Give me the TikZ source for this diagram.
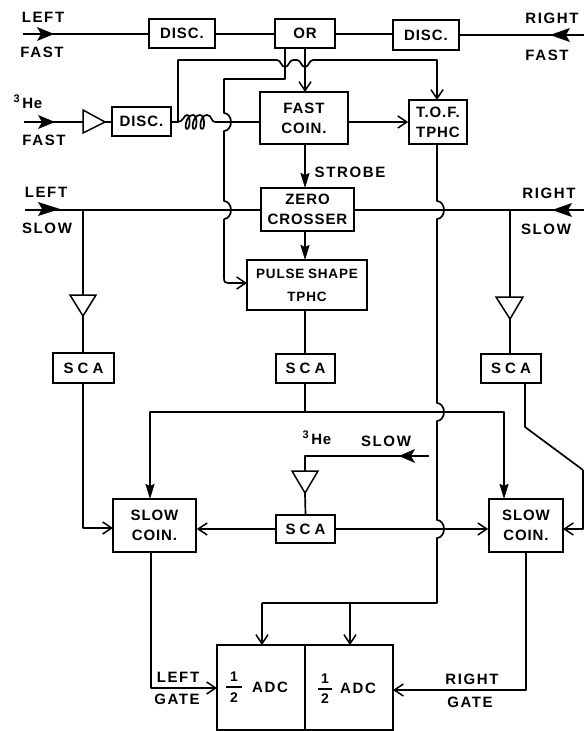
\documentclass[tikz,border=0pt]{standalone}
\usepackage{fontspec}
\setmainfont[LetterSpace=6,WordSpace=0.8]{Liberation Sans Bold}
\newfontfamily\labfont[LetterSpace=11,WordSpace=0.8]{Liberation Sans Bold}
\usetikzlibrary{arrows.meta,shapes.geometric}
\tikzset{
  x=1pt,y=-1pt,
  wire/.style={line width=1.7pt,line join=round},
  openarrow/.style={wire,-{Straight Barb[length=9pt,width=12pt,line width=1.5pt]}},
  solidarrow/.style={wire,-{Stealth[length=15pt,width=9pt,inset=2pt]}},
  blockbox/.style={draw,line width=1.7pt,fill=white,align=center,inner sep=0pt,font=\fontsize{15}{20}\selectfont},
  lab/.style={inner sep=0pt,align=center,font=\labfont\fontsize{15}{18}\selectfont},
  fracnum/.style={inner sep=0pt,font=\fontsize{14}{14}\selectfont},
  amp/.style={draw,line width=1.5pt,fill=white},
}
\newcommand{\mkbox}[6]{\node[blockbox,minimum width={(#3-#2)*1pt},minimum height={(#5-#4)*1pt}] (#1) at ({(#2+#3)/2},{(#4+#5)/2}) {#6};}
\begin{document}
\begin{tikzpicture}
\useasboundingbox (0,0) rectangle (584,731);
% ---- free ends
\coordinate (lfin) at (23,34);
\coordinate (rfin) at (584,35);
\coordinate (lsin) at (25,210);
\coordinate (rsin) at (584,210);
\coordinate (hefin) at (24,122);
\coordinate (hesin) at (429,456);
% ---- boxes
\mkbox{d1}{149}{215}{19}{48}{DISC.}
\mkbox{or}{275}{335}{19}{48}{OR}
\mkbox{d2}{393}{459}{20}{50}{DISC.}
\mkbox{fc}{260}{348}{92}{144}{FAST\\COIN.}
\mkbox{tof}{409}{467}{100}{144}{T.O.F.\\TPHC}
\mkbox{d3}{112}{171}{107}{136}{DISC.}
\mkbox{zc}{261}{354}{188}{231}{ZERO\\CROSSER}
\node[blockbox,minimum width=120pt,minimum height=50pt,font=\fontsize{13.5}{23}\selectfont] (ps) at (307,285) {PULSE SHAPE\\TPHC};
\mkbox{sl}{53}{114}{353}{383}{S C A}
\mkbox{sm}{276}{335}{354}{383}{S C A}
\mkbox{sr}{481}{541}{354}{383}{S C A}
\mkbox{cl}{113}{196}{499}{552}{SLOW\\COIN.}
\mkbox{sb}{276}{335}{515}{543}{S C A}
\mkbox{cr}{489}{563}{499}{552}{SLOW\\COIN.}
\node[draw,line width=1.7pt,minimum width=88pt,minimum height=85pt,inner sep=0pt] (a1) at (261,687.5) {};
\node[draw,line width=1.7pt,minimum width=88pt,minimum height=85pt,inner sep=0pt] (a2) at (349,687.5) {};
% ---- amplifier triangles
\coordinate (a3in) at (83,122); \coordinate (a3out) at (105,122);
\coordinate (alin) at (83,295); \coordinate (alout) at (83,316);
\coordinate (arin) at (510,297); \coordinate (arout) at (510,319);
\coordinate (abin) at (305,471); \coordinate (about) at (305,493);
% ---- coil ends
\coordinate (cstart) at (178,122);
\coordinate (cend) at (215,122);
% ---- wires
\draw[wire] (lfin) -- (d1.west |- lfin);
\draw[wire] (d1.east |- lfin) -- (or.west |- lfin);
\draw[wire] (d2.west |- lfin) -- (or.east |- lfin);
\draw[wire] (rfin) -- (d2.east |- rfin);
\draw[wire] (hefin) -- (a3in);
\draw[wire] (a3out) -- (d3.west |- a3out);
\draw[wire] (d3.east |- a3out) -- (cstart);
\draw[wire] (cstart) .. controls (183,122) and (184,115) .. (187,115) .. controls (191,115) and (190,129) .. (187,129) .. controls (184,129) and (186,115) .. (193,115) .. controls (198,115) and (197,129) .. (194,129) .. controls (191,129) and (193,115) .. (200,115) .. controls (205,115) and (205,129) .. (202,129) .. controls (199,129) and (200,115) .. (207,115) .. controls (212,115) and (211,122) .. (cend);
\draw[wire] (cend) -- (fc.west |- cend);
% OR outputs
\draw[openarrow] (305,48) -- (305,92);
\draw[wire] (285,48) -- (285,79) -- (224,79) -- (224,113) arc[start angle=-90,end angle=90,x radius=7,y radius=9] -- (224,201) arc[start angle=-90,end angle=90,x radius=7,y radius=9];
\draw[openarrow] (224,219) -- (224,278) .. controls (224,282) and (225,283) .. (228,283) -- (247,283);
% time-of-flight branch
\draw[wire] (178,122) -- (178,60) -- (277,60) .. controls (281,60) and (281,67) .. (285,67) .. controls (289,67) and (289,60) .. (293,60) -- (297,60) .. controls (301,60) and (301,67) .. (305,67) .. controls (309,67) and (309,60) .. (313,60);
\draw[openarrow] (313,60) -- (437,60) -- (437,100);
\draw[openarrow] (fc.east |- tof.west) -- (tof.west);
\draw[solidarrow] (305,144) -- (305,188);
\draw[solidarrow] (305,231) -- (305,260);
% slow lines
\draw[wire] (lsin) -- (zc.west |- lsin);
\draw[wire] (zc.east |- lsin) -- (rsin);
\draw[wire] (83,210) -- (alin);
\draw[wire] (alout) -- (83,353);
\draw[wire] (510,210) -- (arin);
\draw[wire] (arout) -- (510,354);
\draw[wire] (305,310) -- (305,354);
% TOF down
\draw[wire] (437,144) -- (437,201) arc[start angle=-90,end angle=90,x radius=7,y radius=9] -- (437,403) arc[start angle=-90,end angle=90,x radius=7,y radius=9] -- (437,520) arc[start angle=-90,end angle=90,x radius=7,y radius=9] -- (437,603) -- (262,603);
\draw[openarrow] (262,603) -- (262,645);
\draw[openarrow] (350,603) -- (350,645);
% SCA mid to coincidences
\draw[wire] (305,383) -- (305,412);
\draw[solidarrow] (305,412) -- (150,412) -- (150,499);
\draw[solidarrow] (305,412) -- (504,412) -- (504,499);
\draw[openarrow] (83,383) -- (83,528) -- (113,528);
\draw[wire] (525,383) -- (525,427) -- (583,470);
\draw[openarrow] (583,470) -- (583,529) -- (563,529);
% 3He slow
\draw[wire] (hesin) -- (305,456) -- (abin);
\draw[wire] (about) -- (sb.north);
\draw[openarrow] (sb.west) -- (cl.east |- sb.west);
\draw[openarrow] (sb.east) -- (cr.west |- sb.east);
% ADC
\draw[openarrow] (151,552) -- (151,688) -- (217,688);
\draw[openarrow] (526,552) -- (526,690) -- (393,690);
% filled arrowheads
\fill (37,27) -- (54,34) -- (37,41) -- (41,34) -- cycle;
\fill (570,28) -- (550,35) -- (570,42) -- (566,35) -- cycle;
\fill (38,115) -- (55,122) -- (38,129) -- (42,122) -- cycle;
\fill (38,202) -- (60,209) -- (38,216) -- (42,209) -- cycle;
\fill (572,203) -- (552,210) -- (572,217) -- (568,210) -- cycle;
\fill (415,449) -- (399,456) -- (415,463) -- (411,456) -- cycle;
% triangles
\draw[amp] (83,110) -- (105,122) -- (83,133) -- cycle;
\draw[amp] (70,295) -- (96,295) -- (83,316) -- cycle;
\draw[amp] (496,297) -- (523,297) -- (510,319) -- cycle;
\draw[amp] (292,471) -- (318,471) -- (305,493) -- cycle;
% ---- labels
\node[lab] (tlf) at (43,17) {LEFT};
\node[lab] (tff) at (42,52) {FAST};
\node[lab] (trf) at (552,18) {RIGHT};
\node[lab] (trff) at (547,55) {FAST};
\node[inner sep=0pt,font=\fontsize{15}{18}\selectfont] (the) at (28,102) {\raisebox{6pt}{\fontsize{11}{12}\selectfont 3}\,He};
\node[lab] (thf) at (44,140) {FAST};
\node[lab] (tls) at (46,192) {LEFT};
\node[lab] (tlss) at (47,228) {SLOW};
\node[lab] (trs) at (549,193) {RIGHT};
\node[lab] (trss) at (546,229) {SLOW};
\node[lab] (tst) at (350,172) {STROBE};
\node[inner sep=0pt,font=\fontsize{15}{18}\selectfont] (the2) at (317,438) {\raisebox{6pt}{\fontsize{11}{12}\selectfont 3}\,He};
\node[lab] (thes) at (386,441) {SLOW};
\node[lab] (tlg) at (178,677) {LEFT};
\node[lab] (tgg) at (177,699) {GATE};
\node[lab] (trg) at (472,679) {RIGHT};
\node[lab] (trgg) at (470,702) {GATE};
\node[fracnum] (n1) at (234,677) {1};
\node[fracnum] (m1) at (234,698) {2};
\draw[line width=1.5pt] (226,687) -- (242,687);
\node[lab] (ad1) at (270,687) {ADC};
\node[fracnum] (n2) at (325,679) {1};
\node[fracnum] (m2) at (325,699) {2};
\draw[line width=1.5pt] (318,689) -- (332,689);
\node[lab] (ad2) at (358,688) {ADC};
\end{tikzpicture}
\end{document}
